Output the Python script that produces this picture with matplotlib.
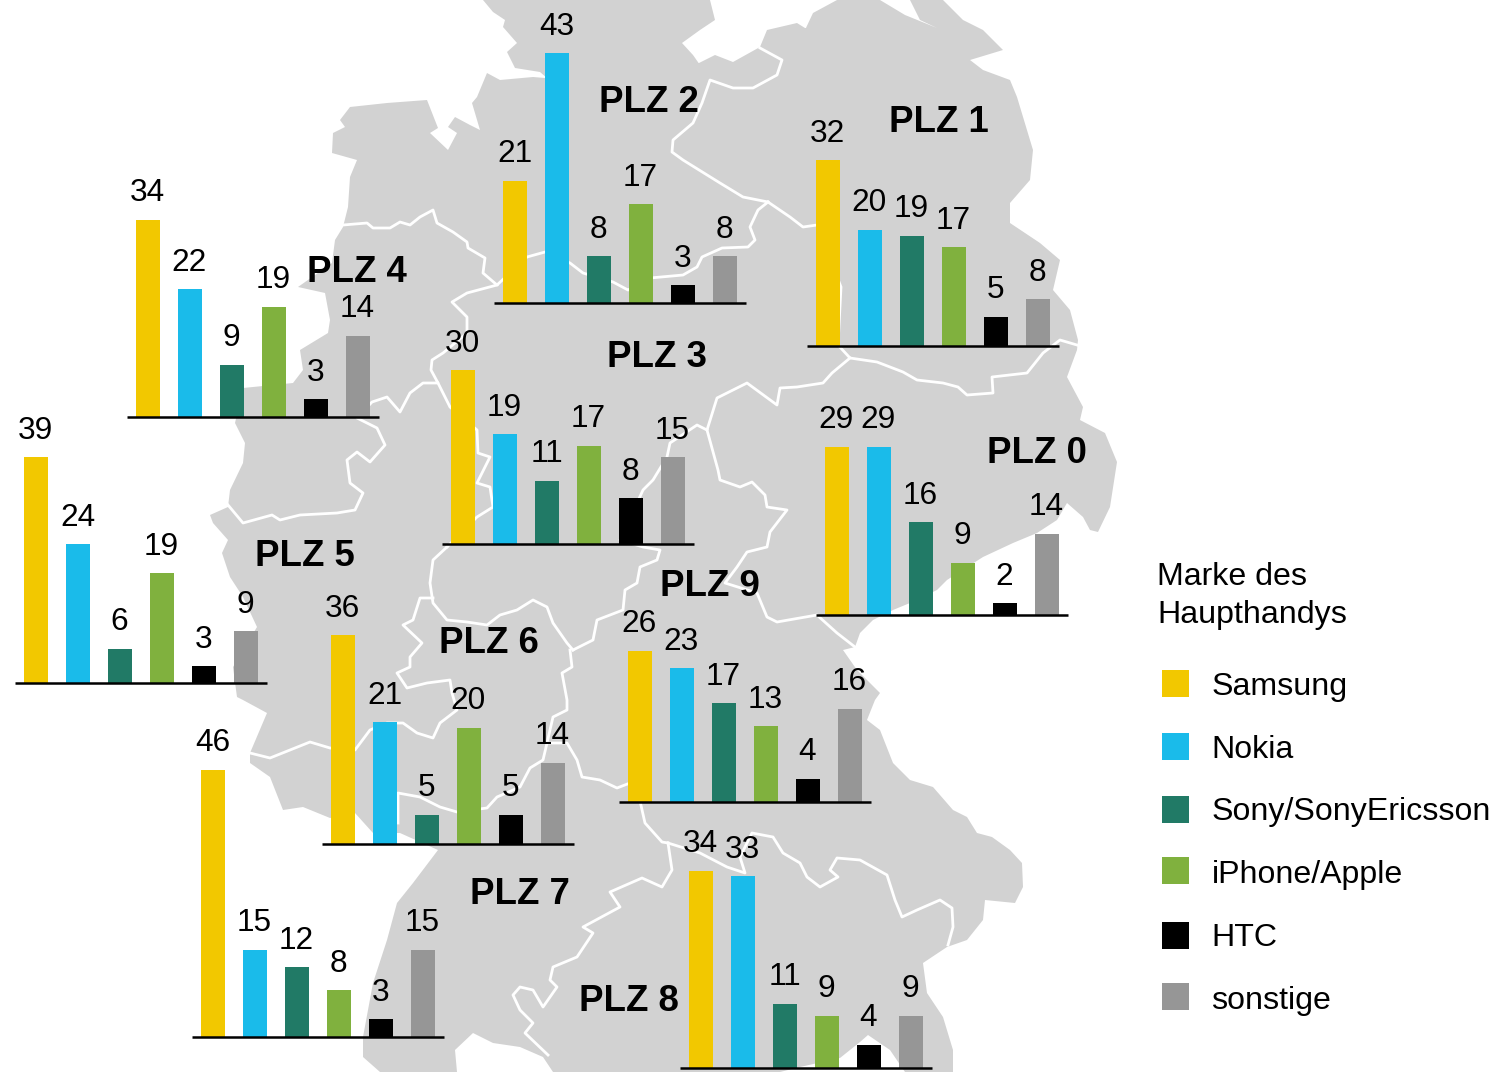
import matplotlib
matplotlib.use("Agg")
import matplotlib.pyplot as plt
from matplotlib.patches import Polygon, Rectangle

plt.rcParams['font.family'] = ['Liberation Sans', 'DejaVu Sans']

W, H = 1510, 1072

# ---------- data ----------
brands = ["Samsung", "Nokia", "Sony/SonyEricsson", "iPhone/Apple", "HTC", "sonstige"]
colors = ["#F2C800", "#1ABBEA", "#217A66", "#80B13E", "#000000", "#969696"]
plz0 = [29, 29, 16, 9, 2, 14]
plz1 = [32, 20, 19, 17, 5, 8]
plz2 = [21, 43, 8, 17, 3, 8]
plz3 = [30, 19, 11, 17, 8, 15]
plz4 = [34, 22, 9, 19, 3, 14]
plz5 = [39, 24, 6, 19, 3, 9]
plz6 = [36, 21, 5, 20, 5, 14]
plz7 = [46, 15, 12, 8, 3, 15]
plz8 = [34, 33, 11, 9, 4, 9]
plz9 = [26, 23, 17, 13, 4, 16]
legend_title = "Marke des\nHaupthandys"

# ---------- layout: (name, values, axis left px, baseline px, label left px, label baseline px) ----------
groups = [
    ("PLZ 0", plz0, 816, 615.0, 987, 463),
    ("PLZ 1", plz1, 807, 345.7, 889, 132),
    ("PLZ 2", plz2, 494, 302.7, 599, 112),
    ("PLZ 3", plz3, 442, 544.4, 607, 367),
    ("PLZ 4", plz4, 127, 416.7, 307, 282),
    ("PLZ 5", plz5, 15, 683.4, 255, 566),
    ("PLZ 6", plz6, 322, 843.8, 439, 653),
    ("PLZ 7", plz7, 192, 1036.7, 470, 904),
    ("PLZ 8", plz8, 680, 1067.7, 579, 1011),
    ("PLZ 9", plz9, 619, 801.7, 660, 596),
]
PX_PER_UNIT = 5.8
GROUP_W = 252
YMAX = 50
swatch_tops = [670, 733, 796, 857, 922, 983]
text_bases = [695, 758, 820, 883, 946, 1009]

# ---------- background map outline and region borders (pixel space) ----------
outline = [
    (483,0),(493,12),(505,20),(503,27),(517,43),(507,52),(515,68),(540,72),(570,98),(545,78),(533,77),
    (500,80),(487,73),(477,97),(472,103),(480,130),(470,125),(455,117),(448,127),(457,133),(448,150),
    (430,133),(438,128),(427,100),(387,103),(350,107),(340,120),(345,127),(333,133),(332,153),(357,160),
    (350,177),(348,207),(343,227),(335,240),(332,263),(298,287),(325,293),(330,320),(328,333),(300,350),
    (303,370),(293,383),(243,388),(235,423),(245,443),(243,463),(230,490),(228,507),(210,515),(213,523),
    (228,540),(222,553),(230,577),(243,597),(257,627),(233,667),(237,697),(243,700),(267,713),(250,753),
    (250,763),(270,777),(283,810),(303,807),(330,818),(355,813),(373,833),(400,833),(438,850),(413,883),
    (397,903),(387,940),(373,983),(363,1037),(363,1057),(380,1072),(457,1072),(455,1050),(473,1033),
    (493,1043),(520,1047),(543,1057),(553,1072),(780,1072),(800,1067),(840,1058),(860,1042),(868,1035),
    (890,1050),(905,1072),(953,1072),(953,1050),(943,1017),(927,993),(923,963),(947,947),(967,940),
    (983,920),(985,900),(1015,903),(1023,887),(1022,863),(1010,850),(992,837),(977,833),(967,817),
    (953,810),(933,787),(910,780),(893,763),(880,730),(867,720),(875,700),(880,693),(857,670),(843,650),
    (855,647),(860,633),(873,620),(893,610),(910,603),(937,590),(947,580),(983,557),(1013,543),(1037,533),
    (1057,520),(1067,503),(1083,517),(1090,530),(1098,532),(1110,507),(1117,462),(1105,433),(1080,420),
    (1083,407),(1067,377),(1077,350),(1078,340),(1070,310),(1053,290),(1060,260),(1040,243),(1010,223),
    (1010,203),(1030,180),(1033,150),(1017,97),(1010,80),(983,70),(970,60),(1003,50),(983,30),(963,20),
    (953,10),(943,0),(910,0),(920,20),(937,28),(905,15),(880,0),(837,0),(813,13),(805,30),(813,33),
    (797,23),(767,30),(760,47),(733,62),(715,55),(695,65),(683,72),(700,65),(693,55),(682,43),(700,30),
    (715,20),(710,0),
]
borders = [
    [(343,225),(367,223),(373,228),(390,228),(400,222),(410,225),(420,217),(433,210),(437,223),(453,232),
     (467,242),(468,248),(485,258),(483,273),(497,285),(527,257),(545,252),(570,263),(583,273),(613,282),
     (628,290),(650,278),(683,275),(697,267),(702,257),(722,248),(748,247),(755,240),(750,227),(758,210),(768,202)],
    [(768,202),(743,197),(720,183),(683,160),(672,152),(673,140),(693,123),(702,103),(710,80),(733,88),
     (753,88),(777,75),(782,60),(760,48)],
    [(768,202),(790,217),(803,227),(817,225),(841,287),(838,345),(850,358),(877,362),(903,372),(917,380),
     (943,383),(958,387),(967,395),(993,393),(992,377),(1027,373),(1043,353),(1060,340),(1077,345)],
    [(850,358),(832,373),(823,383),(797,387),(780,388),(777,405),(747,383),(717,398),(707,430),(718,470),
     (720,480),(740,487),(752,482),(765,495),(767,507),(787,510),(770,532),(767,547),(747,552),(737,567),
     (725,583),(757,593),(767,617),(777,622),(817,615),(837,633),(855,647)],
    [(707,430),(697,425),(670,443),(667,457),(653,480),(643,490),(620,540),(643,547),(660,550),(657,560),
     (640,567),(637,583),(625,590),(623,610),(597,620),(593,640),(573,650)],
    [(447,547),(433,560),(430,583),(433,603),(447,620),(467,622),(487,625),(500,615),(517,610),(533,600),
     (547,607),(553,623),(567,643),(573,650)],
    [(433,598),(420,598),(413,620),(403,625),(422,643),(410,657),(410,667),(397,673),(407,688),(427,683),
     (450,680),(452,693),(457,710),(440,723),(433,738),(417,733),(403,723),(387,723),(370,730),(355,750),
     (330,748),(310,742),(290,750),(270,758),(250,753)],
    [(398,823),(398,793),(420,797),(440,807),(457,812),(487,808),(497,797),(520,787),(530,768),(543,760),
     (547,743),(553,717),(567,710),(567,700),(562,673),(572,667),(570,650)],
    [(547,743),(567,743),(577,760),(582,777),(600,780),(617,788),(630,783),(640,801),(645,823),(662,842),(668,843)],
    [(668,843),(672,870),(662,887),(642,878),(610,892),(620,907),(583,927),(593,933),(577,957),(553,967),
     (550,980),(557,987),(543,1007),(533,990),(520,987),(513,995),(520,1010),(533,1023),(525,1033),(548,1055)],
    [(668,843),(700,853),(727,867),(745,873),(740,857),(752,833),(773,837),(783,853),(800,863),(807,877),
     (820,887),(838,877),(830,870),(837,858),(860,860),(887,875),(895,900),(902,917),(917,910),(940,900),
     (952,908),(953,927),(948,945)],
    [(497,285),(467,293),(452,302),(467,317),(467,333),(443,353),(432,360),(431,370),(438,383),(423,383),
     (410,393),(400,412),(387,397),(372,402),(357,418),(377,428),(385,445),(370,462),(357,452),(347,460),
     (350,483),(363,493),(355,510),(337,513),(300,515),(280,520),(272,515),(243,523),(228,505)],
    [(438,383),(450,407),(477,430),(478,453),(490,457),(477,483),(490,487),(493,507),(477,517),(447,547)],
]

fig = plt.figure(figsize=(W / 100, H / 100), dpi=100, facecolor="white")

# map layer in pixel coordinates
bg = fig.add_axes([0, 0, 1, 1])
bg.set_xlim(0, W)
bg.set_ylim(H, 0)
bg.axis("off")
bg.add_patch(Polygon(outline, closed=True, facecolor="#D2D2D2", edgecolor="none", zorder=1))
for line in borders:
    xs, ys = zip(*line)
    bg.plot(xs, ys, color="white", lw=2.0, solid_joinstyle="round", zorder=2)

# region labels
for name, vals, x0, base, lx, ly in groups:
    bg.text(lx, ly, name, fontsize=26.4, fontweight="bold", ha="left", va="baseline", color="black", zorder=5)

# small bar charts
for name, vals, x0, base, lx, ly in groups:
    h_px = YMAX * PX_PER_UNIT
    ax = fig.add_axes([x0 / W, (H - base) / H, GROUP_W / W, h_px / H])
    ax.patch.set_alpha(0)
    ax.set_xlim(-0.5, 5.5)
    ax.set_ylim(0, YMAX)
    ax.bar(range(len(vals)), vals, width=24 / 42, color=colors, linewidth=0)
    for i, v in enumerate(vals):
        ax.annotate(str(v), (i, v), xytext=(-0.4, 13.3), textcoords="offset points",
                    ha="center", va="baseline", fontsize=22.8, color="black", annotation_clip=False)
    for s in ("top", "left", "right"):
        ax.spines[s].set_visible(False)
    ax.spines["bottom"].set_linewidth(1.8)
    ax.spines["bottom"].set_color("black")
    ax.spines["bottom"].set_capstyle("butt")
    ax.set_xticks([])
    ax.set_yticks([])

# legend (drawn by hand to match spacing)
LEG_FS = 23.1
bg.text(1157, 585, legend_title.split("\n")[0], fontsize=LEG_FS, ha="left", va="baseline")
bg.text(1157, 623, legend_title.split("\n")[1], fontsize=LEG_FS, ha="left", va="baseline")
for b, c, t, tb in zip(brands, colors, swatch_tops, text_bases):
    bg.add_patch(Rectangle((1162, t), 27, 27, facecolor=c, edgecolor="none"))
    bg.text(1211.5, tb, b, fontsize=LEG_FS, ha="left", va="baseline")

fig.savefig("out.png", dpi=100, facecolor="white")
